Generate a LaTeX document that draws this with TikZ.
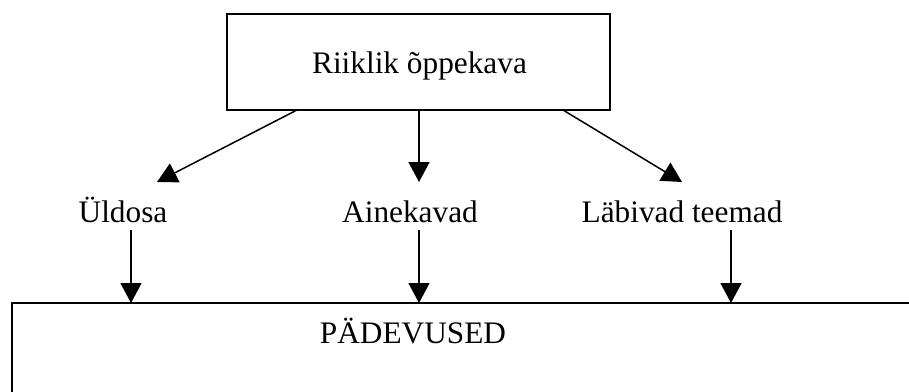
\documentclass[tikz,border=0pt]{standalone}
\usepackage{fontspec}
\setmainfont{Liberation Serif}
\usetikzlibrary{arrows.meta}
\tikzset{
  lbl/.style={inner sep=0pt, anchor=base, font=\fontsize{31.3}{36}\selectfont},
  boxshape/.style={draw, line width=1.5pt, rectangle, inner sep=0pt},
  conn/.style={line width=1.5pt, -{Triangle[length=20pt,width=21pt]}}
}
\begin{document}
\begin{tikzpicture}[x=1pt,y=-1pt]
\useasboundingbox (0,0) rectangle (909,391);
\clip (0,0) rectangle (909,391);
% top box
\node[boxshape, minimum width=383pt, minimum height=96pt] (top) at (418.5,62) {};
\node[lbl] (toptext) at (419.5,73) {Riiklik õppekava};
% labels
\node[lbl] (uld) at (123,222) {Üldosa};
\node[lbl] (aine) at (410,222) {Ainekavad};
\node[lbl] (labi) at (682,222) {Läbivad teemad};
% bottom box
\draw[line width=1.5pt] (915,303) coordinate (brtop) -- (12,303) coordinate (bltop) -- (12,400) coordinate (blbot);
\node[lbl] (pad) at (413,343) {PÄDEVUSED};
% connector points
\coordinate (s1) at (297,110);
\coordinate (s2) at (419,110);
\coordinate (s3) at (563,110);
\coordinate (e1) at (157,182);
\coordinate (e2) at (419,182);
\coordinate (e3) at (682,182);
\draw[conn] (s1) -- (e1);
\draw[conn] (s2) -- (e2);
\draw[conn] (s3) -- (e3);
\coordinate (u1) at (131,230);
\coordinate (u2) at (419,230);
\coordinate (u3) at (731,230);
\coordinate (d1) at (131,303);
\coordinate (d2) at (419,303);
\coordinate (d3) at (731,303);
\draw[conn] (u1) -- (d1);
\draw[conn] (u2) -- (d2);
\draw[conn] (u3) -- (d3);
\end{tikzpicture}
\end{document}
